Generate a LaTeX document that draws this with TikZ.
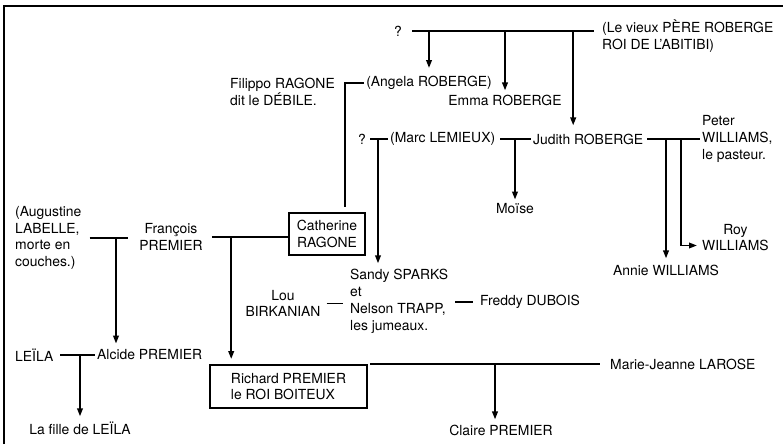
\documentclass[tikz,border=0pt]{standalone}
\usepackage{fontspec}
\setmainfont{TeX Gyre Heros}
\usetikzlibrary{arrows.meta}
\begin{document}
\begin{tikzpicture}[x=1pt, y=-1pt,
    every node/.style={font=\fontsize{13.9}{16.8}\selectfont, inner sep=2pt},
    person/.style={align=left},
    kinbox/.style={draw, line width=1.6pt, align=left},
    link/.style={line width=1.9pt},
    child/.style={line width=1.9pt, -{Triangle[width=5.5pt,length=8pt]}, shorten >=2pt}]
    \useasboundingbox (0,0) rectangle (783,444);
    \draw[line width=1.6pt] (4,444) -- (4,6) -- (783,6);

    \node (q1) at (398,31) {?};
    \node (pere) [person, anchor=west] at (600,36) {(Le vieux PÈRE ROBERGE\\ROI DE L'ABITIBI)};
    \node (filippo) [person, anchor=west] at (228,92) {Filippo RAGONE\\dit le DÉBILE.};
    \node (angela) at (429,83) {(Angela ROBERGE)};
    \node (emma) at (505,100) {Emma ROBERGE};
    \node (q2) at (362,139) {?};
    \node (marc) [anchor=west] at (388,139) {(Marc LEMIEUX)};
    \node (judith) [anchor=west] at (531,139) {Judith ROBERGE};
    \node (peter) [person, anchor=west] at (700,139) {Peter\\WILLIAMS,\\le pasteur.};
    \node (moise) at (515,209) {Moïse};
    \node (roy) [align=center, anchor=west] at (700,237.5) {Roy\\WILLIAMS};
    \node (annie) at (666,270) {Annie WILLIAMS};
    \node (augustine) [person, anchor=west] at (13,238) {(Augustine\\LABELLE,\\morte en\\couches.)};
    \node (francois) [align=center] at (171,237) {François\\PREMIER};
    \node (catherine) [kinbox, align=center, inner xsep=8pt, inner ysep=7pt] at (327,234) {Catherine\\RAGONE};
    \node (twins) [person, anchor=west] at (348,301.5) {Sandy SPARKS\\et\\Nelson TRAPP,\\les jumeaux.};
    \node (lou) [align=center] at (283,303.5) {Lou\\BIRKANIAN};
    \node (freddy) [anchor=west] at (478,302) {Freddy DUBOIS};
    \node (leila) [anchor=west] at (13,355) {LEÏLA};
    \node (alcide) [anchor=west] at (95,355) {Alcide PREMIER};
    \node (richard) [kinbox, minimum width=157pt, inner ysep=8pt] at (288.5,386.5) {Richard PREMIER\\le ROI BOITEUX};
    \node (marie) [anchor=west] at (608,364) {Marie-Jeanne LAROSE};
    \node (fille) at (80,428) {La fille de LEÏLA};
    \node (claire) at (501,430) {Claire PREMIER};

    \coordinate (tojudith) at ([xshift=-15pt]judith.north);
    \draw[link, shorten <=8pt, shorten >=6pt] (q1.east) -- (q1.east -| pere.west);
    \draw[child, shorten >=6pt] (q1.east -| angela.north) -- (angela.north);
    \draw[child] (q1.east -| emma.north) -- (emma.north);
    \draw[child, shorten >=6pt] (q1.east -| tojudith) -- (tojudith);

    \coordinate (tocath) at ([xshift=-21pt]catherine.north east);
    \draw[link, shorten >=5pt] (angela.west) -| (tocath);

    \coordinate (tosandy) at ([xshift=30pt]twins.north west);
    \draw[link, shorten <=2pt] (q2.east) -- (marc.west);
    \draw[child, shorten >=4pt] (q2.east -| tosandy) -- (tosandy);

    \draw[link, shorten <=3pt] (marc.east) -- (judith.west);
    \draw[child] (marc.east -| moise.north) -- (moise.north);

    \coordinate (toroy) at ([yshift=-8pt]roy.west);
    \coordinate (roydrop) at ([xshift=-19pt]peter.west);
    \draw[link, shorten <=2pt] (judith.east) -- (peter.west);
    \draw[child, shorten >=4pt] (judith.east -| annie.north) -- (annie.north);
    \draw[child, shorten >=3pt] (roydrop) |- (toroy);

    \coordinate (toalcide) at ([xshift=21pt]alcide.north west);
    \coordinate (torichard) at ([xshift=22pt]richard.north west);
    \draw[link, shorten <=6pt, shorten >=9pt] (augustine.east) -- (augustine.east -| francois.west);
    \draw[child, shorten >=4pt] (augustine.east -| toalcide) -- (toalcide);
    \draw[link, shorten <=7pt] (francois.east) -- (francois.east -| catherine.west);
    \draw[child, shorten >=5pt] (francois.east -| torichard) -- (torichard);

    \draw[link, shorten <=4pt, shorten >=5pt] (lou.east) -- (lou.east -| twins.west);
    \draw[link, shorten <=5pt, shorten >=5pt] (twins.east |- freddy.west) -- (freddy.west);

    \draw[link, shorten <=5pt] (leila.east) -- (alcide.west);
    \draw[child, shorten >=3pt] (leila.east -| fille.north) -- (fille.north);

    \coordinate (toclaire) at ([xshift=-6pt]claire.north);
    \draw[link, shorten <=2pt, shorten >=8pt] (richard.north east) -- (richard.north east -| marie.west);
    \draw[child, shorten >=3pt] (richard.north east -| toclaire) -- (toclaire);
\end{tikzpicture}
\end{document}
